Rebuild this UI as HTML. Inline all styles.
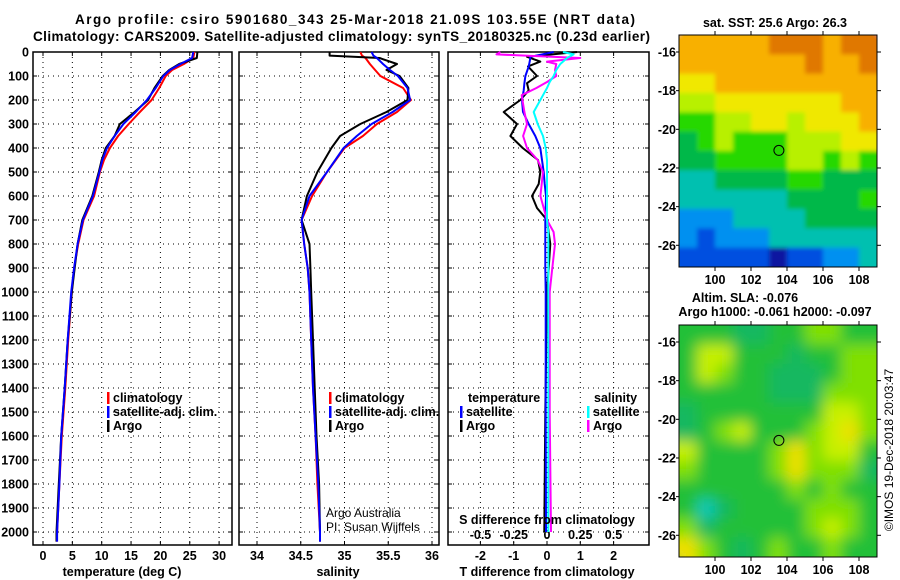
<!DOCTYPE html>
<html><head><meta charset="utf-8">
<style>
html,body{margin:0;padding:0;background:#fff;}
svg{display:block;font-family:"Liberation Sans",sans-serif;}
.b{font-weight:bold;font-size:12.5px;}
</style></head>
<body>
<svg id="c" width="900" height="580" viewBox="0 0 900 580">
<defs><filter id="blur" x="0" y="0" width="1" height="1"><feGaussianBlur stdDeviation="7"/></filter>
<filter id="blur1" x="0" y="0" width="1" height="1"><feGaussianBlur stdDeviation="2"/></filter>
<clipPath id="clip1"><rect x="679" y="35" width="198" height="232"/></clipPath>
<clipPath id="clip2"><rect x="679" y="325" width="198" height="232"/></clipPath></defs>
</svg>
<script>
// ---- data ----
const tDepth=[0,25,50,75,100,150,200,250,300,350,400,450,500,600,700,800,900,1000,1200,1400,1600,1800,2000,2040];
const tClim=[25.8,25.6,24.0,22.0,20.9,19.8,18.5,16.5,14.6,12.8,11.4,10.4,9.7,8.7,6.9,6.0,5.3,4.9,4.3,3.8,3.2,2.8,2.4,2.35];
const tSat=[25.6,25.4,23.4,21.6,20.5,19.2,17.7,15.8,13.7,12.2,10.9,10.1,9.6,8.5,6.8,5.9,5.3,4.8,4.2,3.7,3.1,2.8,2.4,2.4];
const tArgo=[26.3,26.2,23.2,21.5,20.4,19.0,17.9,15.6,13.1,12.2,10.7,10.0,9.5,8.4,6.7,5.9,5.4,4.9,4.2,3.7,3.1,2.7,2.3,2.3];
const sDepth=[0,15,25,50,75,100,150,200,250,300,350,400,500,600,700,800,900,1000,1200,1400,1600,1800,2000,2040];
const sClim=[35.18,35.2,35.24,35.29,35.35,35.41,35.67,35.76,35.6,35.37,35.21,35.0,34.8,34.63,34.51,34.54,34.58,34.6,34.62,34.64,34.67,34.69,34.72,34.72];
const sSat=[35.31,35.33,35.37,35.44,35.52,35.61,35.72,35.75,35.55,35.31,35.14,34.99,34.8,34.6,34.51,34.54,34.58,34.6,34.62,34.64,34.67,34.7,34.72,34.72];
const sArgo=[34.83,34.83,35.4,35.6,35.48,35.63,35.73,35.72,35.48,35.18,34.95,34.85,34.69,34.57,34.51,34.6,34.61,34.62,34.64,34.66,34.68,34.71,34.72,34.72];
const dDepth=[0,20,40,60,100,130,160,200,250,300,350,400,450,500,550,600,650,700,800,900,1000,1500,2000];
const dTArgo=[0.9,-0.6,-0.2,-0.57,-0.3,-0.6,-0.55,-0.8,-1.3,-0.9,-1.1,-0.73,-0.27,-0.2,-0.25,-0.45,-0.3,0,0.1,0.05,0,-0.05,-0.08];
const dTSat=[0.2,-0.5,-0.52,-0.55,-0.65,-0.68,-0.7,-0.75,-0.72,-0.55,-0.35,-0.2,-0.15,-0.1,-0.07,-0.03,-0.04,-0.05,-0.05,-0.05,-0.04,-0.04,-0.03];
const mDepth=[0,10,25,40,50,75,100,125,150,180,250,300,350,400,450,500,600,700,750,800,900,1000,1500,2000];
const dSArgo=[-0.35,-0.38,0.25,0,0.07,0.06,0.07,0,-0.08,-0.19,-0.17,-0.15,-0.18,-0.15,-0.07,-0.03,-0.05,0,0.05,0.06,0.04,0.02,0.02,0.03];
const dSSat=[0.12,0.2,0.15,0.12,0.1,0.07,0.05,0.02,0,-0.03,-0.1,-0.07,-0.03,-0.01,0,0,0,0,0.01,0.01,0.01,0.01,0.01,0.01];
const depthTicks=[0,100,200,300,400,500,600,700,800,900,1000,1100,1200,1300,1400,1500,1600,1700,1800,1900,2000];
const tTicks=[0,5,10,15,20,25,30];
const sTicks=[34,34.5,35,35.5,36];
const dTTicks=[-2,-1,0,1,2];
const dSTicks=[-0.5,-0.25,0,0.25,0.5];
const sstGrid=[
[8,8,8,8,8,9,9,9,8,9,9],[8,8,8,8,8,8,8,9,8,8,9],[7,7,8,8,8,8,8,8,8,8,8],[6,6,7,7,7,7,7,7,7,8,8],
[5,5,6,6,7,7,6,7,7,7,8],[4,5,6,5,5,5,6,6,6,7,7],[4,4,5,5,5,5,6,6,5,6,5],[3,3,4,4,4,4,5,5,4,4,4],
[3,3,3,3,3,3,4,4,4,4,5],[2,2,2,3,3,3,3,4,4,4,4],[2,1,2,2,2,3,3,3,3,3,3],[1,1,1,1,1,0,1,1,2,2,3]];
const slaGrid=[
[2,2,2,1,1,2,2,3,3,2,2],[2,4,4,2,2,2,1,2,2,3,3],[2,4,3,2,2,1,1,1,2,3,3],[2,2,2,2,2,1,1,1,3,3,3],
[1,2,2,2,2,2,2,2,4,4,3],[1,2,3,4,2,2,2,3,4,5,3],[4,2,2,2,2,3,5,3,4,4,2],[3,2,2,2,2,3,5,3,3,3,1],
[2,2,2,2,2,2,3,2,3,2,2],[2,0,1,2,2,2,2,3,3,3,2],[3,1,2,2,2,2,2,3,4,3,2],[5,3,2,1,2,3,2,2,3,2,2]];
const lonTicks=[100,102,104,106,108];
const latTicks=[-16,-18,-20,-22,-24,-26];
const argoLon=103.55, argoLat=-21.09;
const sstColors=['#0818a0','#0050e0','#0090f0','#00c0b0','#00b848','#28d800','#b8f000','#f0e800','#f8b000','#e07800'];
const slaColors=['#10c8b8','#18b860','#20c038','#80e000','#c8f000','#f0e000'];

const NS='http://www.w3.org/2000/svg';
const svg=document.getElementById('c');
function el(tag,attrs,parent){const e=document.createElementNS(NS,tag);for(const k in attrs)e.setAttribute(k,attrs[k]);(parent||svg).appendChild(e);return e;}
function txt(x,y,s,cls,anchor,parent){const t=el('text',{x:x,y:y,'class':cls||'b','text-anchor':anchor||'middle'},parent);t.textContent=s;return t;}

const yD=d=>52+d*0.24;
const yTop=52,yBot=545;
const xT=v=>43+v*5.87;
const xS=v=>257+(v-34)*87.5;
const xDT=v=>547+v*33.3;
const xDS=v=>547+v*133;
const panels=[[33,232],[239,439],[448,649]];

panels.forEach((p,i)=>{
  const g=el('g',{});
  
  
  depthTicks.forEach(d=>{el('line',{x1:p[0],x2:p[1],y1:yD(d),y2:yD(d),stroke:'#000','stroke-width':1,'stroke-dasharray':'1,4'},g);
    el('line',{x1:p[0],x2:p[0]+4,y1:yD(d),y2:yD(d),stroke:'#000'},g);el('line',{x1:p[1]-4,x2:p[1],y1:yD(d),y2:yD(d),stroke:'#000'},g);});
  const ticks=i==0?tTicks.map(xT):i==1?sTicks.map(xS):dTTicks.map(xDT);
  ticks.forEach(x=>{el('line',{x1:x,x2:x,y1:yTop,y2:yBot,stroke:'#000','stroke-dasharray':'1,4'},g);el('line',{x1:x,x2:x,y1:yBot-4,y2:yBot,stroke:'#000'},g);el('line',{x1:x,x2:x,y1:yTop,y2:yTop+4,stroke:'#000'},g);});
  el('rect',{x:p[0],y:yTop,width:p[1]-p[0],height:yBot-yTop,fill:'none',stroke:'#000','stroke-width':1.5},g);
});
depthTicks.forEach(d=>{const t=txt(29,yD(d)+4.5,String(d),'b','end');});
tTicks.forEach(v=>{const t=txt(xT(v),560,String(v));});
sTicks.forEach(v=>{const t=txt(xS(v),560,String(v));});
dTTicks.forEach(v=>{const t=txt(xDT(v),560,String(v));});
dSTicks.forEach(v=>{const t=txt(xDS(v),539,String(v));});

function line(xs,ds,fx,color,w,name){
  const pts=xs.map((v,i)=>fx(v).toFixed(1)+','+yD(ds[i]).toFixed(1)).join(' ');
  const l=el('polyline',{points:pts,fill:'none',stroke:color,'stroke-width':w,'stroke-linejoin':'round'});
  
  
}
line(tClim,tDepth,xT,'#f00',2,'temperature-climatology-line');
line(tArgo,tDepth,xT,'#000',2,'temperature-argo-line');
line(tSat,tDepth,xT,'#00f',2,'temperature-satellite-line');
line(sClim,sDepth,xS,'#f00',2,'salinity-climatology-line');
line(sArgo,sDepth,xS,'#000',2,'salinity-argo-line');
line(sSat,sDepth,xS,'#00f',2,'salinity-satellite-line');
line(dTArgo,dDepth,xDT,'#000',2,'t-diff-argo-line');
line(dTSat,dDepth,xDT,'#00f',2,'t-diff-satellite-line');
line(dSArgo,mDepth,xDS,'#f0f',2,'s-diff-argo-line');
line(dSSat,mDepth,xDS,'#0ff',2,'s-diff-satellite-line');

function legend(x,y,color,label,name){
  const g=el('g',{});
  
  
  el('rect',{x:x,y:y-10,width:2.5,height:12,fill:color},g);
  txt(x+6,y,label,'b','start',g);
}
legend(107,402,'#f00','climatology','legend-temp-climatology');
legend(107,416,'#00f','satellite-adj. clim.','legend-temp-satellite');
legend(107,430,'#000','Argo','legend-temp-argo');
legend(329,402,'#f00','climatology','legend-sal-climatology');
legend(329,416,'#00f','satellite-adj. clim.','legend-sal-satellite');
legend(329,430,'#000','Argo','legend-sal-argo');
txt(468,402,'temperature','b','start');
legend(460,416,'#00f','satellite','legend-tdiff-satellite');
legend(460,430,'#000','Argo','legend-tdiff-argo');
txt(594,402,'salinity','b','start');
legend(587,416,'#0ff','satellite','legend-sdiff-satellite');
legend(587,430,'#f0f','Argo','legend-sdiff-argo');
const ack1=el('text',{x:326,y:517,'font-size':'12','text-anchor':'start'});ack1.textContent='Argo Australia';
const ack2=el('text',{x:326,y:531,'font-size':'12','text-anchor':'start'});ack2.textContent='PI: Susan Wijffels';
txt(547,524,'S difference from climatology');
txt(122,576,'temperature (deg C)');
txt(338,576,'salinity');
txt(547,576,'T difference from climatology');
const t1=el('text',{x:75,y:24,'class':'b','textLength':560});t1.style.fontSize='13.5px';t1.textContent='Argo profile: csiro 5901680_343 25-Mar-2018 21.09S 103.55E (NRT data)';

const t2=el('text',{x:33,y:41,'class':'b','textLength':617});t2.style.fontSize='13.5px';t2.textContent='Climatology: CARS2009. Satellite-adjusted climatology: synTS_20180325.nc (0.23d earlier)';


const mx0=679,mx1=877,cw=18,ch=19.33;
const lonX=l=>679+(l-98)*18;
function drawMap(grid,colors,y0,name,clip,filt){
  const g=el('g',{'clip-path':'url(#'+clip+')'});
  
  
  const inner=el('g',{filter:'url(#'+filt+')'},g);
  el('rect',{x:mx0-20,y:y0-20,width:240,height:275,fill:colors[2]},inner);
  grid.forEach((row,r)=>row.forEach((v,c)=>{
    el('rect',{x:mx0+c*cw,y:y0+r*ch,width:cw+0.5,height:ch+0.5,fill:colors[v]},inner);
    if(r==0) el('rect',{x:mx0+c*cw,y:y0-20,width:cw+.5,height:20,fill:colors[v]},inner);
    if(r==grid.length-1) el('rect',{x:mx0+c*cw,y:y0+232,width:cw+.5,height:20,fill:colors[v]},inner);
    if(c==0) el('rect',{x:mx0-20,y:y0+r*ch,width:20,height:ch+.5,fill:colors[v]},inner);
    if(c==row.length-1) el('rect',{x:mx1,y:y0+r*ch,width:20,height:ch+.5,fill:colors[v]},inner);
  }));
  el('rect',{x:mx0,y:y0,width:198,height:232,fill:'none',stroke:'#000','stroke-width':1});
  lonTicks.forEach(l=>{el('line',{x1:lonX(l),x2:lonX(l),y1:y0-4,y2:y0,stroke:'#000'});el('line',{x1:lonX(l),x2:lonX(l),y1:y0+232,y2:y0+236,stroke:'#000'});
    const t=txt(lonX(l),y0+249,String(l));});
  latTicks.forEach(la=>{const y=y0+17+(-16-la)*ch;el('line',{x1:mx1,x2:mx1+4,y1:y,y2:y,stroke:'#000'});el('line',{x1:mx0-3,x2:mx0,y1:y,y2:y,stroke:'#000'});
    const t=txt(676,y+4.5,String(la),'b','end');});
  const m=el('circle',{cx:lonX(argoLon),cy:y0+17+(-16-argoLat)*ch,r:5,fill:'none',stroke:'#000','stroke-width':1});
  
  
}
drawMap(sstGrid,sstColors,35,'sst-map','clip1','blur1');
drawMap(slaGrid,slaColors,325,'sla-map','clip2','blur');
txt(775,27,'sat. SST: 25.6 Argo: 26.3');
txt(745,302,'Altim. SLA: -0.076');
txt(775,316,'Argo h1000: -0.061 h2000: -0.097');
const cp=el('text',{x:0,y:0,'font-size':'12','text-anchor':'middle',transform:'translate(893,450) rotate(-90)'});
cp.textContent='©IMOS 19-Dec-2018 20:03:47';


</script>
</body></html>
